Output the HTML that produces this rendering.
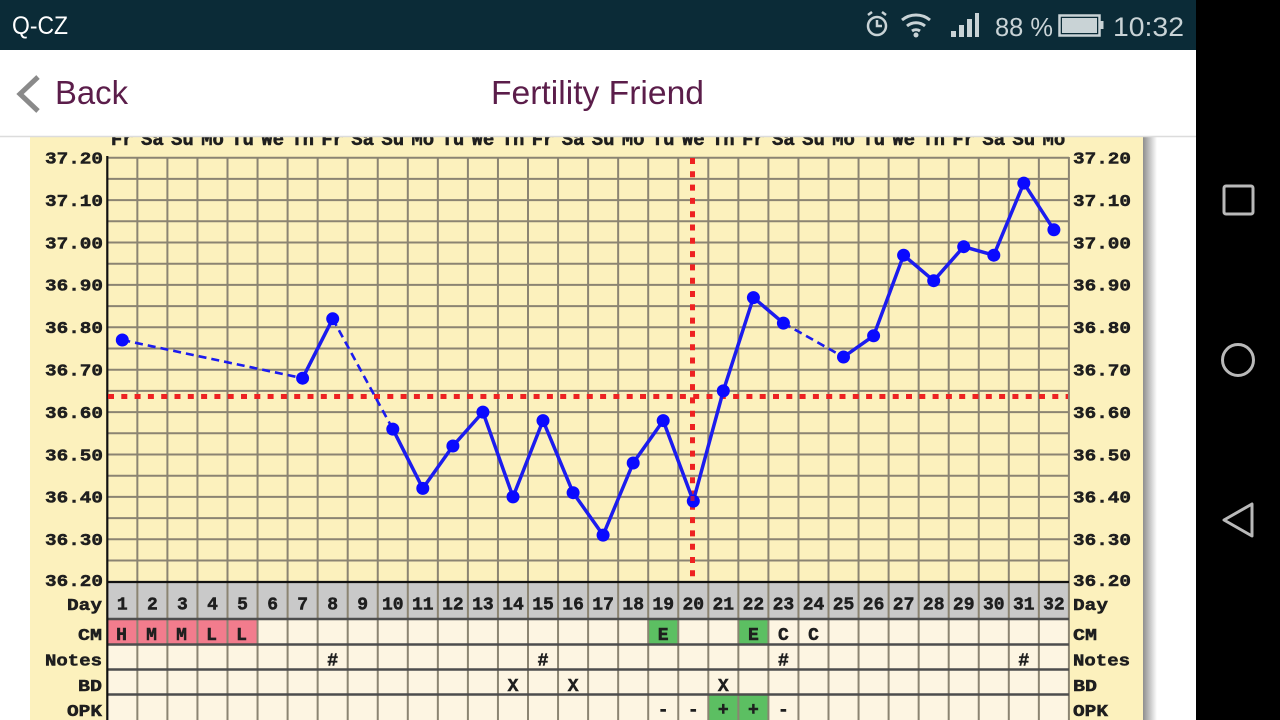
<!DOCTYPE html>
<html><head><meta charset="utf-8"><style>
html,body{margin:0;padding:0;width:1280px;height:720px;overflow:hidden;background:#fff}
svg{display:block}
.t{font-family:"Liberation Mono","DejaVu Sans Mono",monospace;font-weight:bold;fill:#1e1e1e;stroke:#1e1e1e;stroke-width:0.5}
.s{font-family:"Liberation Sans",sans-serif}
</style></head><body>
<svg width="1280" height="720" viewBox="0 0 1280 720" xmlns="http://www.w3.org/2000/svg">
<defs>
<linearGradient id="sh" x1="0" x2="1" y1="0" y2="0">
<stop offset="0" stop-color="#8e8e8e"/><stop offset="1" stop-color="#ffffff"/>
</linearGradient>
</defs>
<rect x="0" y="0" width="1280" height="720" fill="#fff"/>
<!-- chart panel -->
<rect x="30" y="130" width="1113" height="600" fill="#fcf1bd"/>
<rect x="1143" y="130" width="14" height="600" fill="url(#sh)"/>

<!-- horizontal grid -->
<g stroke="#8b8472" stroke-width="2">
<line x1="107" y1="157.7" x2="1069" y2="157.7"/>
<line x1="107" y1="178.9" x2="1069" y2="178.9"/>
<line x1="107" y1="200.1" x2="1069" y2="200.1"/>
<line x1="107" y1="221.3" x2="1069" y2="221.3"/>
<line x1="107" y1="242.5" x2="1069" y2="242.5"/>
<line x1="107" y1="263.7" x2="1069" y2="263.7"/>
<line x1="107" y1="284.9" x2="1069" y2="284.9"/>
<line x1="107" y1="306.1" x2="1069" y2="306.1"/>
<line x1="107" y1="327.3" x2="1069" y2="327.3"/>
<line x1="107" y1="348.5" x2="1069" y2="348.5"/>
<line x1="107" y1="369.7" x2="1069" y2="369.7"/>
<line x1="107" y1="390.9" x2="1069" y2="390.9"/>
<line x1="107" y1="412.1" x2="1069" y2="412.1"/>
<line x1="107" y1="433.3" x2="1069" y2="433.3"/>
<line x1="107" y1="454.5" x2="1069" y2="454.5"/>
<line x1="107" y1="475.7" x2="1069" y2="475.7"/>
<line x1="107" y1="496.9" x2="1069" y2="496.9"/>
<line x1="107" y1="518.1" x2="1069" y2="518.1"/>
<line x1="107" y1="539.3" x2="1069" y2="539.3"/>
<line x1="107" y1="560.5" x2="1069" y2="560.5"/>
</g>

<!-- table backgrounds -->
<rect x="107" y="582" width="962" height="37" fill="#c9c9c9"/>
<rect x="107" y="619" width="962" height="101" fill="#fdf5e2"/>
<!-- colored cells -->
<g fill="#f27c8d">
<rect x="107.3" y="620" width="150.3" height="24"/>
</g>
<g fill="#5cbf62">
<rect x="648.2" y="620" width="30" height="24"/>
<rect x="738.35" y="620" width="30" height="24"/>
<rect x="708.3" y="695.5" width="60.1" height="25"/>
</g>

<!-- vertical grid -->
<g stroke="#8b8472" stroke-width="2">
<line x1="137.35" y1="157" x2="137.35" y2="720"/>
<line x1="167.4" y1="157" x2="167.4" y2="720"/>
<line x1="197.45" y1="157" x2="197.45" y2="720"/>
<line x1="227.5" y1="157" x2="227.5" y2="720"/>
<line x1="257.55" y1="157" x2="257.55" y2="720"/>
<line x1="287.6" y1="157" x2="287.6" y2="720"/>
<line x1="317.65" y1="157" x2="317.65" y2="720"/>
<line x1="347.7" y1="157" x2="347.7" y2="720"/>
<line x1="377.75" y1="157" x2="377.75" y2="720"/>
<line x1="407.8" y1="157" x2="407.8" y2="720"/>
<line x1="437.85" y1="157" x2="437.85" y2="720"/>
<line x1="467.9" y1="157" x2="467.9" y2="720"/>
<line x1="497.95" y1="157" x2="497.95" y2="720"/>
<line x1="528" y1="157" x2="528" y2="720"/>
<line x1="558.05" y1="157" x2="558.05" y2="720"/>
<line x1="588.1" y1="157" x2="588.1" y2="720"/>
<line x1="618.15" y1="157" x2="618.15" y2="720"/>
<line x1="648.2" y1="157" x2="648.2" y2="720"/>
<line x1="678.25" y1="157" x2="678.25" y2="720"/>
<line x1="708.3" y1="157" x2="708.3" y2="720"/>
<line x1="738.35" y1="157" x2="738.35" y2="720"/>
<line x1="768.4" y1="157" x2="768.4" y2="720"/>
<line x1="798.45" y1="157" x2="798.45" y2="720"/>
<line x1="828.5" y1="157" x2="828.5" y2="720"/>
<line x1="858.55" y1="157" x2="858.55" y2="720"/>
<line x1="888.6" y1="157" x2="888.6" y2="720"/>
<line x1="918.65" y1="157" x2="918.65" y2="720"/>
<line x1="948.7" y1="157" x2="948.7" y2="720"/>
<line x1="978.75" y1="157" x2="978.75" y2="720"/>
<line x1="1008.8" y1="157" x2="1008.8" y2="720"/>
<line x1="1038.85" y1="157" x2="1038.85" y2="720"/>
<line x1="1068.9" y1="157" x2="1068.9" y2="720"/>
</g>
<!-- table row separators -->
<g stroke="#4d4d4d" stroke-width="2.5">
<line x1="107" y1="619" x2="1069" y2="619"/>
<line x1="107" y1="644.5" x2="1069" y2="644.5"/>
<line x1="107" y1="669.5" x2="1069" y2="669.5"/>
<line x1="107" y1="694.5" x2="1069" y2="694.5"/>
</g>
<!-- axis -->
<line x1="107.3" y1="156" x2="107.3" y2="720" stroke="#111" stroke-width="2.2"/>
<line x1="107" y1="582" x2="1069" y2="582" stroke="#111" stroke-width="2.2"/>

<!-- red cover & ovulation lines -->
<line x1="108" y1="396.5" x2="1068" y2="396.5" stroke="#ee2222" stroke-width="5" stroke-dasharray="6 7.3"/>
<line x1="692.5" y1="158" x2="692.5" y2="578" stroke="#ee2222" stroke-width="5" stroke-dasharray="6 7.3"/>

<!-- temperature line -->
<g fill="none" stroke="#1c1cee" stroke-linejoin="round">
<polyline stroke-width="2.6" stroke-dasharray="8 5" points="122.3,340 302.6,378.2"/>
<polyline stroke-width="2.6" stroke-dasharray="8 5" points="332.7,318.8 392.8,429.1"/>
<polyline stroke-width="2.6" stroke-dasharray="8 5" points="783.4,323.1 843.5,357"/>
<polyline stroke-width="3.5" points="302.6,378.2 332.7,318.8"/>
<polyline stroke-width="3.5" points="392.8,429.1 422.8,488.4 452.9,446 482.9,412.1 513,496.9 543,420.6 573.1,492.7 603.1,535.1 633.2,463 663.2,420.6 693.3,501.1 723.3,390.9 753.4,297.6 783.4,323.1"/>
<polyline stroke-width="3.5" points="843.5,357 873.6,335.8 903.6,255.2 933.7,280.7 963.7,246.7 993.8,255.2 1023.8,183.1 1053.9,229.8"/>
</g>
<g fill="#0a0aff">
<circle cx="122.3" cy="340" r="6.5"/>
<circle cx="302.6" cy="378.2" r="6.5"/>
<circle cx="332.7" cy="318.8" r="6.5"/>
<circle cx="392.8" cy="429.1" r="6.5"/>
<circle cx="422.8" cy="488.4" r="6.5"/>
<circle cx="452.9" cy="446" r="6.5"/>
<circle cx="482.9" cy="412.1" r="6.5"/>
<circle cx="513" cy="496.9" r="6.5"/>
<circle cx="543" cy="420.6" r="6.5"/>
<circle cx="573.1" cy="492.7" r="6.5"/>
<circle cx="603.1" cy="535.1" r="6.5"/>
<circle cx="633.2" cy="463" r="6.5"/>
<circle cx="663.2" cy="420.6" r="6.5"/>
<circle cx="693.3" cy="501.1" r="6.5"/>
<circle cx="723.3" cy="390.9" r="6.5"/>
<circle cx="753.4" cy="297.6" r="6.5"/>
<circle cx="783.4" cy="323.1" r="6.5"/>
<circle cx="843.5" cy="357" r="6.5"/>
<circle cx="873.6" cy="335.8" r="6.5"/>
<circle cx="903.6" cy="255.2" r="6.5"/>
<circle cx="933.7" cy="280.7" r="6.5"/>
<circle cx="963.7" cy="246.7" r="6.5"/>
<circle cx="993.8" cy="255.2" r="6.5"/>
<circle cx="1023.8" cy="183.1" r="6.5"/>
<circle cx="1053.9" cy="229.8" r="6.5"/>
</g>
<rect x="690.5" y="496" width="4" height="5" fill="#ee2222" opacity="0.7"/>

<!-- y labels left -->
<g class="t" font-size="17" text-anchor="end">
<text x="103" y="163.5" textLength="58" lengthAdjust="spacingAndGlyphs">37.20</text>
<text x="103" y="205.9" textLength="58" lengthAdjust="spacingAndGlyphs">37.10</text>
<text x="103" y="248.3" textLength="58" lengthAdjust="spacingAndGlyphs">37.00</text>
<text x="103" y="290.7" textLength="58" lengthAdjust="spacingAndGlyphs">36.90</text>
<text x="103" y="333.1" textLength="58" lengthAdjust="spacingAndGlyphs">36.80</text>
<text x="103" y="375.5" textLength="58" lengthAdjust="spacingAndGlyphs">36.70</text>
<text x="103" y="417.9" textLength="58" lengthAdjust="spacingAndGlyphs">36.60</text>
<text x="103" y="460.3" textLength="58" lengthAdjust="spacingAndGlyphs">36.50</text>
<text x="103" y="502.7" textLength="58" lengthAdjust="spacingAndGlyphs">36.40</text>
<text x="103" y="545.1" textLength="58" lengthAdjust="spacingAndGlyphs">36.30</text>
<text x="103" y="586" textLength="58" lengthAdjust="spacingAndGlyphs">36.20</text>
<text x="102" y="610" textLength="35" lengthAdjust="spacingAndGlyphs">Day</text>
<text x="102" y="640" textLength="24" lengthAdjust="spacingAndGlyphs">CM</text>
<text x="102" y="665.5" textLength="57" lengthAdjust="spacingAndGlyphs">Notes</text>
<text x="102" y="691" textLength="24" lengthAdjust="spacingAndGlyphs">BD</text>
<text x="102" y="716" textLength="35" lengthAdjust="spacingAndGlyphs">OPK</text>
</g>
<!-- y labels right -->
<g class="t" font-size="17" text-anchor="start">
<text x="1073" y="163.5" textLength="58" lengthAdjust="spacingAndGlyphs">37.20</text>
<text x="1073" y="205.9" textLength="58" lengthAdjust="spacingAndGlyphs">37.10</text>
<text x="1073" y="248.3" textLength="58" lengthAdjust="spacingAndGlyphs">37.00</text>
<text x="1073" y="290.7" textLength="58" lengthAdjust="spacingAndGlyphs">36.90</text>
<text x="1073" y="333.1" textLength="58" lengthAdjust="spacingAndGlyphs">36.80</text>
<text x="1073" y="375.5" textLength="58" lengthAdjust="spacingAndGlyphs">36.70</text>
<text x="1073" y="417.9" textLength="58" lengthAdjust="spacingAndGlyphs">36.60</text>
<text x="1073" y="460.3" textLength="58" lengthAdjust="spacingAndGlyphs">36.50</text>
<text x="1073" y="502.7" textLength="58" lengthAdjust="spacingAndGlyphs">36.40</text>
<text x="1073" y="545.1" textLength="58" lengthAdjust="spacingAndGlyphs">36.30</text>
<text x="1073" y="586" textLength="58" lengthAdjust="spacingAndGlyphs">36.20</text>
<text x="1073" y="610" textLength="35" lengthAdjust="spacingAndGlyphs">Day</text>
<text x="1073" y="640" textLength="24" lengthAdjust="spacingAndGlyphs">CM</text>
<text x="1073" y="665.5" textLength="57" lengthAdjust="spacingAndGlyphs">Notes</text>
<text x="1073" y="691" textLength="24" lengthAdjust="spacingAndGlyphs">BD</text>
<text x="1073" y="716" textLength="35" lengthAdjust="spacingAndGlyphs">OPK</text>
</g>

<!-- day numbers -->
<g class="t" font-size="18" text-anchor="middle">
<text x="122.3" y="609.5">1</text><text x="152.4" y="609.5">2</text><text x="182.4" y="609.5">3</text><text x="212.5" y="609.5">4</text>
<text x="242.5" y="609.5">5</text><text x="272.6" y="609.5">6</text><text x="302.6" y="609.5">7</text><text x="332.7" y="609.5">8</text>
<text x="362.7" y="609.5">9</text><text x="392.8" y="609.5">10</text><text x="422.8" y="609.5">11</text><text x="452.9" y="609.5">12</text>
<text x="482.9" y="609.5">13</text><text x="513" y="609.5">14</text><text x="543" y="609.5">15</text><text x="573.1" y="609.5">16</text>
<text x="603.1" y="609.5">17</text><text x="633.2" y="609.5">18</text><text x="663.2" y="609.5">19</text><text x="693.3" y="609.5">20</text>
<text x="723.3" y="609.5">21</text><text x="753.4" y="609.5">22</text><text x="783.4" y="609.5">23</text><text x="813.5" y="609.5">24</text>
<text x="843.5" y="609.5">25</text><text x="873.6" y="609.5">26</text><text x="903.6" y="609.5">27</text><text x="933.7" y="609.5">28</text>
<text x="963.7" y="609.5">29</text><text x="993.8" y="609.5">30</text><text x="1023.8" y="609.5">31</text><text x="1053.9" y="609.5">32</text>
</g>
<!-- CM row -->
<g class="t" font-size="18" text-anchor="middle">
<text x="121.5" y="640">H</text><text x="151.5" y="640">M</text><text x="181.5" y="640">M</text>
<text x="211.5" y="640">L</text><text x="241.5" y="640">L</text>
<text x="663.2" y="640">E</text><text x="753.4" y="640">E</text>
<text x="783.4" y="640">C</text><text x="813.5" y="640">C</text>
<!-- Notes -->
<text x="332.7" y="665.5">#</text><text x="543" y="665.5">#</text>
<text x="783.4" y="665.5">#</text><text x="1023.8" y="665.5">#</text>
<!-- BD -->
<text x="513" y="691">X</text><text x="573.1" y="691">X</text><text x="723.3" y="691">X</text>
<!-- OPK -->
<text x="663.2" y="715">-</text><text x="693.3" y="715">-</text>
<text x="723.3" y="715">+</text><text x="753.4" y="715">+</text>
<text x="783.4" y="715">-</text>
</g>

<!-- weekday labels (top, partially hidden) -->
<g class="t" font-size="19" text-anchor="middle">
<text x="122.3" y="145">Fr</text><text x="152.4" y="145">Sa</text><text x="182.4" y="145">Su</text><text x="212.5" y="145">Mo</text>
<text x="242.5" y="145">Tu</text><text x="272.6" y="145">We</text><text x="302.6" y="145">Th</text><text x="332.7" y="145">Fr</text>
<text x="362.7" y="145">Sa</text><text x="392.8" y="145">Su</text><text x="422.8" y="145">Mo</text><text x="452.9" y="145">Tu</text>
<text x="482.9" y="145">We</text><text x="513" y="145">Th</text><text x="543" y="145">Fr</text><text x="573.1" y="145">Sa</text>
<text x="603.1" y="145">Su</text><text x="633.2" y="145">Mo</text><text x="663.2" y="145">Tu</text><text x="693.3" y="145">We</text>
<text x="723.3" y="145">Th</text><text x="753.4" y="145">Fr</text><text x="783.4" y="145">Sa</text><text x="813.5" y="145">Su</text>
<text x="843.5" y="145">Mo</text><text x="873.6" y="145">Tu</text><text x="903.6" y="145">We</text><text x="933.7" y="145">Th</text>
<text x="963.7" y="145">Fr</text><text x="993.8" y="145">Sa</text><text x="1023.8" y="145">Su</text><text x="1053.9" y="145">Mo</text>
</g>

<!-- header -->
<rect x="0" y="50" width="1196" height="87" fill="#ffffff"/>
<line x1="0" y1="136.5" x2="1196" y2="136.5" stroke="#dcdcdc" stroke-width="1.5"/>
<polyline points="38,77 20,94 38,111" fill="none" stroke="#8a8a8a" stroke-width="5"/>
<text class="s" x="55" y="104" font-size="33" fill="#5b1d4a" textLength="73" lengthAdjust="spacingAndGlyphs">Back</text>
<text class="s" x="491" y="104" font-size="33" fill="#5b1d4a" textLength="213" lengthAdjust="spacingAndGlyphs">Fertility Friend</text>

<!-- status bar -->
<rect x="0" y="0" width="1196" height="50" fill="#0b2b37"/>
<text class="s" x="12" y="34" font-size="25" fill="#ffffff" textLength="56" lengthAdjust="spacingAndGlyphs">Q-CZ</text>
<g fill="none" stroke="#c9d3d6" stroke-width="2.5">
<circle cx="877" cy="26" r="9"/>
<polyline points="877,20 877,26 882,26"/>
<line x1="868" y1="15" x2="872" y2="12"/><line x1="886" y1="15" x2="882" y2="12"/>
</g>
<g fill="none" stroke="#c9d3d6" stroke-width="3">
<path d="M902,20 A22,22 0 0 1 930,20"/>
<path d="M907,26 A14,14 0 0 1 925,26"/>
<path d="M912,31 A7,7 0 0 1 920,31"/>
</g>
<circle cx="916" cy="35" r="2.5" fill="#c9d3d6"/>
<g fill="#c9d3d6">
<rect x="951" y="31" width="5" height="6"/>
<rect x="959" y="25" width="5" height="12"/>
<rect x="967" y="19" width="5" height="18"/>
<rect x="975" y="13" width="4" height="24"/>
</g>
<text class="s" x="995" y="36" font-size="26" fill="#c9d3d6" textLength="58" lengthAdjust="spacingAndGlyphs">88 %</text>
<rect x="1059.5" y="15.5" width="40" height="20" fill="none" stroke="#c9d3d6" stroke-width="2.5"/>
<rect x="1062" y="18" width="35" height="15" fill="#c9d3d6"/>
<rect x="1100" y="21" width="3.5" height="8" fill="#c9d3d6"/>
<text class="s" x="1113" y="36" font-size="27" fill="#c9d3d6" textLength="71" lengthAdjust="spacingAndGlyphs">10:32</text>

<!-- nav bar -->
<rect x="1196" y="0" width="84" height="720" fill="#000"/>
<rect x="1224" y="186" width="29" height="28" rx="2" fill="none" stroke="#b9b9b9" stroke-width="3"/>
<circle cx="1238" cy="360" r="15.5" fill="none" stroke="#b9b9b9" stroke-width="3"/>
<polygon points="1224,520 1252,504 1252,536" fill="none" stroke="#b9b9b9" stroke-width="3" stroke-linejoin="round"/>
</svg>
</body></html>
